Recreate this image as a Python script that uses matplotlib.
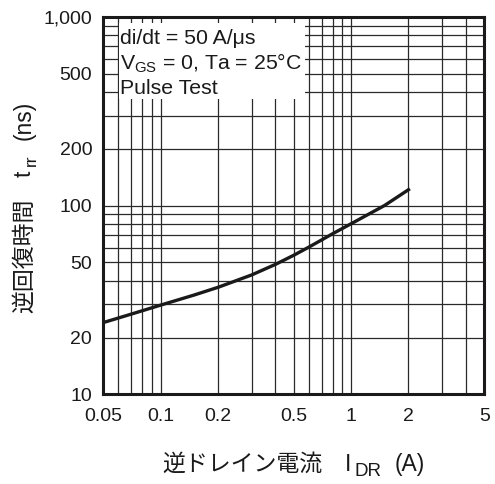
import matplotlib
matplotlib.use("Agg")
import matplotlib.pyplot as plt
from matplotlib.patches import Rectangle
from matplotlib.ticker import FixedLocator, FixedFormatter, LogLocator, NullFormatter

plt.rcParams['font.family'] = ['Liberation Sans', 'Noto Sans CJK JP', 'DejaVu Sans']
plt.rcParams['mathtext.fontset'] = 'custom'
plt.rcParams['mathtext.rm'] = 'Liberation Sans'
plt.rcParams['mathtext.it'] = 'Liberation Sans'

# reverse drain current (A) vs reverse recovery time (ns)
i_dr = [0.05, 0.07, 0.1, 0.15, 0.2, 0.3, 0.4, 0.5, 0.6, 0.7, 0.8, 1.0, 1.5, 2.0]
t_rr = [24.0, 26.6, 29.7, 33.6, 36.9, 42.9, 48.8, 54.6, 60.3, 65.8, 71.0, 80.2, 100.3, 121.5]

x_ticks = [0.05, 0.1, 0.2, 0.5, 1, 2, 5]
x_labels = ["0.05", "0.1", "0.2", "0.5", "1", "2", "5"]
y_ticks = [10, 20, 50, 100, 200, 500, 1000]
y_labels = ["10", "20", "50", "100", "200", "500", "1,000"]

W, H = 495, 484
INK = "#1a1a1a"

fig = plt.figure(figsize=(W / 100, H / 100), dpi=100)
ax = fig.add_axes([103.3 / W, 1 - 394.3 / H, 381.0 / W, 377.3 / H])

ax.set_xscale("log")
ax.set_yscale("log")
ax.set_xlim(0.05, 5)
ax.set_ylim(10, 1000)

# grid at every 1..9 step of each decade
ax.xaxis.set_minor_locator(LogLocator(base=10, subs=range(1, 10)))
ax.yaxis.set_minor_locator(LogLocator(base=10, subs=range(1, 10)))
ax.xaxis.set_minor_formatter(NullFormatter())
ax.yaxis.set_minor_formatter(NullFormatter())
ax.xaxis.set_major_locator(FixedLocator(x_ticks))
ax.xaxis.set_major_formatter(FixedFormatter(x_labels))
ax.yaxis.set_major_locator(FixedLocator(y_ticks))
ax.yaxis.set_major_formatter(FixedFormatter(y_labels))
ax.grid(which="both", color="#2a2a2a", linewidth=0.9)
ax.set_axisbelow(True)
ax.tick_params(which="both", length=0, labelsize=14, colors=INK)
ax.tick_params(axis="x", pad=10)
ax.tick_params(axis="y", pad=8)

for sp in ax.spines.values():
    sp.set_linewidth(2.2)
    sp.set_color(INK)

ax.plot(i_dr, t_rr, color=INK, linewidth=2.4, zorder=3)


def px(x, y):
    """pixel (from top-left) -> figure fraction"""
    return x / W, 1 - y / H


# condition box, white patch over the grid
x0, y0 = px(119, 99)
x1, y1 = px(305, 23)
fig.add_artist(Rectangle((x0, y0), x1 - x0, y1 - y0, transform=fig.transFigure,
                         facecolor="white", edgecolor="none", zorder=4))
box_lines = ["di/dt = 50 A/\u03bcs",
             "$\\mathregular{V_{GS}}$ = 0, Ta = 25\u00b0C",
             "Pulse Test"]
for line, base in zip(box_lines, [44.3, 69.3, 94.0]):
    fig.text(*px(120.5, base), line, fontsize=15.3, color=INK,
             ha="left", va="baseline", zorder=5)

# x axis label, pieces placed on one baseline
xl = [("逆ドレイン電流", 162, 470.7, 16.5),
      ("I", 345, 470.7, 16.5),
      ("DR", 354, 476.5, 13.5),
      ("(A)", 395, 470.7, 16.5)]
for s, x, y, fs in xl:
    fig.text(*px(x, y), s, fontsize=fs, color=INK, ha="left", va="baseline")

# y axis label, rotated pieces reading bottom to top
yl = [("逆回復時間", 31, 313, 16.5),
      ("t", 31, 177, 16.5),
      ("rr", 36, 166.5, 12.5),
      ("(ns)", 31, 140, 16.5)]
for s, x, y, fs in yl:
    fig.text(*px(x, y), s, fontsize=fs, color=INK, rotation=90,
             rotation_mode="anchor", ha="left", va="baseline")

fig.savefig("out.png", dpi=100)
